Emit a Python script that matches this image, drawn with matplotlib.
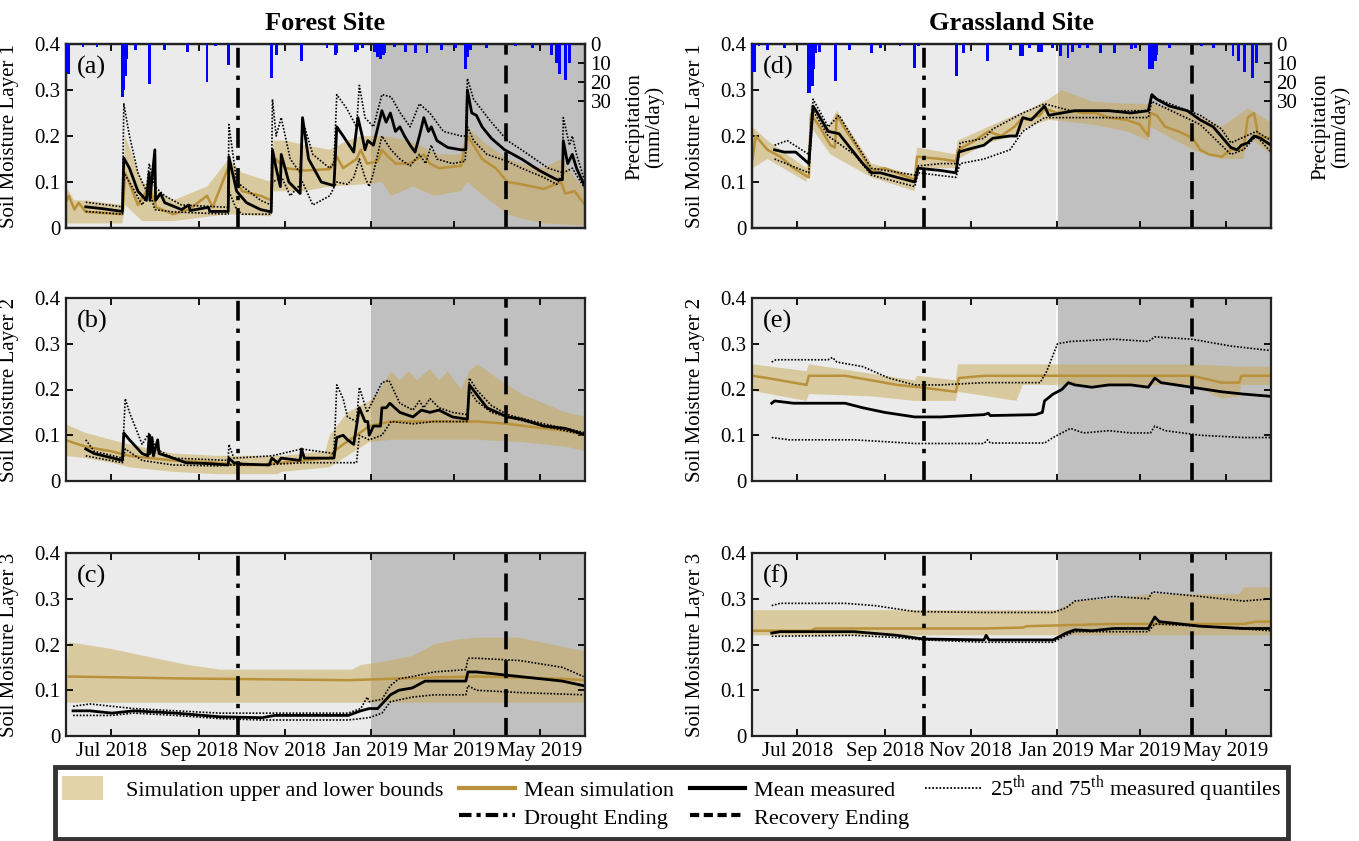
import numpy as np
import matplotlib
matplotlib.use("Agg")
import matplotlib.pyplot as plt
import matplotlib.dates as mdates
from matplotlib.patches import Patch, Rectangle
from matplotlib.lines import Line2D
from matplotlib.legend_handler import HandlerPatch

plt.rcParams['font.family'] = 'serif'
plt.rcParams['font.serif'] = ['Liberation Serif', 'DejaVu Serif']
plt.rcParams['mathtext.fontset'] = 'custom'
plt.rcParams['mathtext.rm'] = 'Liberation Serif'

# ---------------- data (day offsets from 2018-07-01) ----------------
BASE = '2018-07-01'
X_START, X_END = -32, 336
DROUGHT_END = '2018-09-29'
RECOVERY_END = '2019-04-07'
WET_START = '2019-01-01'

# precipitation (day, mm/day)
forest_rain_day = [-31, -30, -20, -10, 8, 9, 10, 11, 17, 27, 38, 54, 68, 74, 83, 114, 117, 135,
                   153, 159, 160, 173, 175, 178, 187, 189, 191, 193, 194, 201, 209, 216, 224, 234,
                   244, 251, 253, 255, 266, 287, 299, 312, 316, 318, 322, 325]
forest_rain_mm = [15, 16, 1.5, 1.5, 28, 24, 17, 8, 3, 21, 3, 4, 20, 1, 11, 18, 6, 9,
                  2, 6, 5, 4, 3, 2, 4, 7, 8, 6, 5, 1.5, 4, 5, 5, 3,
                  2, 13, 7, 3, 2, 1, 2, 6, 10, 16, 19, 10]
grass_rain_day = [-31, -30, -27, -21, -9, 8, 9, 11, 12, 13, 16, 27, 37, 53, 59, 73, 83, 86, 113, 118,
                  135, 151, 158, 160, 165, 171, 173, 181, 187, 192, 195, 200, 206, 215, 225, 237,
                  240, 250, 252, 254, 255, 264, 287, 295, 309, 313, 317, 323, 326]
grass_rain_mm = [15, 15, 1, 3, 2, 26, 26, 22, 13, 5, 4, 19.5, 3, 5, 2, 1, 12.7, 1, 17, 5,
                 9, 3, 6.5, 6.5, 2, 4, 4, 2, 6.5, 7.3, 4, 2, 2, 5, 5, 2.4,
                 2, 13, 13, 9, 6, 2, 1, 2, 6.5, 9, 14.6, 18, 10]

# ---- Forest layer 1 (a)
a_sim = [(-33, .05), (-30, .07), (-26, .04), (-23, .055), (-18, .035), (8, .03), (10, .12), (19, .05),
         (27, .09), (32, .045), (44, .03), (55, .04), (68, .07), (72, .045), (83.5, .135), (89, .1),
         (93, .08), (106, .07), (113.5, .06), (115, .155), (120, .14), (124, .13), (137, .125),
         (155, .128), (160, .155), (164.5, .13), (174, .15), (177, .17), (181.5, .14), (189, .145),
         (192, .17), (195, .16), (201.6, .14), (211, .14), (217, .15), (221.7, .16), (226, .14),
         (232.5, .13), (248, .135), (252.6, .2), (257, .18), (263, .15), (272.7, .13), (281, .1),
         (291, .095), (306.7, .085), (319, .1), (322, .075), (328.6, .08), (336, .05)]
a_up = [(-33, .095), (-26, .06), (-18, .06), (8, .05), (10, .2), (22, .1), (44, .06), (68, .09),
        (83.5, .15), (93, .12), (113.5, .1), (115, .19), (124, .19), (137, .18), (155, .17),
        (167.6, .19), (177, .2), (183, .2), (192, .2), (211, .19), (232.5, .16), (248, .16),
        (252.6, .22), (263, .19), (281, .15), (291, .14), (306.7, .13), (319, .15), (336, .08)]
a_lo = [(-33, .01), (-18, .01), (8, .01), (10, .05), (22, .015), (44, .015), (83.5, .03),
        (113.5, .025), (115, .08), (137, .08), (155, .09), (184, .096), (192, .1), (198.5, .07),
        (214, .09), (229, .07), (248, .08), (252.6, .1), (260, .08), (281, .03), (291, .02),
        (306.7, .01), (336, .005)]
a_mean = [(-18, .046), (-6, .042), (8, .036), (9, .152), (13, .13), (19, .08), (25, .06), (27, .12),
          (27.5, .06), (31, .17), (31.5, .06), (35, .075), (38, .055), (50, .04), (55, .05),
          (56, .038), (69, .045), (70, .036), (83, .036), (83.5, .155), (89, .08), (96, .055),
          (106, .04), (113.5, .035), (114.4, .17), (117, .13), (120, .09), (120.6, .16), (126, .1),
          (134, .075), (135.7, .24), (140, .15), (149, .1), (158, .092), (160, .22), (164.5, .2),
          (172, .165), (175, .24), (178, .2), (180, .17), (182, .19), (186, .18), (192, .255),
          (195, .23), (198, .25), (201.6, .21), (204.7, .22), (208, .2), (212, .18), (215.5, .165),
          (218.6, .2), (221.7, .24), (225, .21), (227, .22), (231, .19), (238.7, .175), (248, .17),
          (251.5, .17), (252.6, .3), (255.7, .25), (259, .245), (263, .22), (269.6, .195),
          (279, .17), (291, .15), (303.6, .125), (316, .105), (320, .105), (320.6, .19),
          (323.7, .14), (327, .16), (330, .13), (336, .09)]
a_q75 = [(-18, .056), (8, .046), (9, .27), (13, .2), (19, .12), (25, .08), (27, .14), (31, .09),
         (38, .07), (50, .05), (83, .045), (83.5, .225), (89, .1), (106, .06), (113.5, .05),
         (114.4, .28), (117, .2), (120.6, .24), (127, .15), (134, .12), (135.7, .235), (143, .16),
         (155, .13), (158, .14), (160, .29), (167, .26), (174, .22), (176, .31), (180, .24),
         (183, .23), (186, .22), (192, .29), (198.5, .285), (205, .25), (212, .22), (218.6, .27),
         (226, .25), (235.6, .21), (248, .2), (251.5, .2), (252.6, .325), (257, .28), (269.6, .23),
         (281, .19), (291, .17), (310, .13), (320, .12), (320.6, .24), (325, .18), (327, .2),
         (330, .16), (336, .1)]
a_q25 = [(-18, .036), (8, .03), (9, .12), (13, .1), (22, .05), (27, .08), (31, .04), (44, .035),
         (83, .03), (83.5, .08), (89, .04), (93, .03), (113.5, .03), (114.4, .1), (121, .11),
         (127, .07), (135.7, .1), (143, .05), (155, .07), (160, .1), (167.6, .095), (172, .11),
         (176, .15), (180, .11), (183, .09), (186, .12), (192, .2), (198.5, .17), (204.7, .15),
         (212, .135), (218.6, .16), (223, .14), (227, .18), (231, .15), (242, .14), (251, .145),
         (252.6, .22), (257, .19), (266.5, .16), (281, .145), (291, .13), (306.7, .11), (316, .095),
         (320.6, .12), (327, .13), (336, .085)]

# ---- Forest layer 2 (b)
b_sim = [(-33, .09), (-18, .075), (0, .065), (13, .055), (28, .05), (44, .045), (75, .04), (90, .035),
         (106, .035), (121, .04), (137, .045), (155, .05), (158, .065), (164.5, .08), (174, .1),
         (183, .12), (198.5, .13), (229, .13), (260, .13), (281, .125), (306.7, .115), (322, .11),
         (337, .1)]
b_up = [(-33, .125), (-18, .105), (0, .09), (13, .08), (44, .06), (75, .055), (121, .055), (152, .065),
        (155, .1), (167.6, .15), (183, .175), (189, .19), (198.5, .24), (204.7, .22), (211, .24),
        (217, .22), (226, .245), (232.5, .22), (238.7, .24), (248, .2), (254, .24), (260, .255),
        (276, .22), (291, .19), (306.7, .17), (322, .15), (337, .14)]
b_lo = [(-33, .055), (-18, .05), (0, .04), (13, .03), (44, .02), (75, .015), (118, .015), (121, .02),
        (155, .03), (167.6, .055), (183, .085), (198.5, .09), (260, .09), (291, .085), (322, .075),
        (337, .065)]
b_mean = [(-18, .07), (-12, .06), (8, .045), (9, .105), (13, .09), (22, .06), (26, .055), (27, .1),
          (27.5, .06), (29, .095), (30, .055), (33, .09), (34, .06), (44, .05), (53, .04), (69, .038),
          (83, .035), (83.5, .05), (87, .04), (93, .037), (112, .035), (114, .05), (118, .04),
          (120.6, .05), (134, .045), (135, .07), (137, .05), (158, .05), (160, .095), (164.5, .1),
          (167.6, .09), (172, .08), (176, .16), (180, .13), (182, .13), (183, .1), (186, .12),
          (191, .12), (192, .16), (195, .16), (197.6, .17), (204.7, .15), (214, .14), (220, .155),
          (226, .15), (232.5, .155), (242, .14), (252.6, .135), (254, .21), (259, .19), (266.5, .16),
          (281, .14), (291, .135), (306.7, .12), (322, .115), (337, .1)]
b_q75 = [(-18, .09), (-12, .065), (8, .05), (10, .18), (13, .15), (22, .08), (27, .105), (32, .07),
         (44, .05), (83, .045), (83.5, .08), (87, .05), (114, .055), (135, .07), (158, .06),
         (160, .21), (164.5, .18), (167.6, .14), (174, .13), (176, .205), (181.5, .15), (192, .215),
         (197, .22), (204.7, .17), (214, .155), (218.6, .175), (221.7, .16), (226, .18),
         (232.5, .16), (242, .15), (252.6, .145), (254, .225), (259, .2), (269.6, .165),
         (281, .145), (306.7, .125), (322, .115), (337, .105)]
b_q25 = [(-18, .055), (8, .04), (10, .07), (22, .045), (44, .035), (75, .033), (83.5, .035),
         (106, .035), (137, .04), (174, .04), (176, .1), (183, .09), (192, .1), (198.5, .13),
         (214, .125), (229, .13), (252.6, .13), (254, .2), (259, .175), (269.6, .15), (281, .14),
         (306.7, .12), (322, .11), (337, .1)]

# ---- Forest layer 3 (c)
c_sim = [(-30, .13), (46, .126), (107, .124), (168, .122), (198, .125), (229, .128), (259, .13),
         (289.5, .128), (320, .125), (335, .122)]
c_up = [(-30, .205), (0.6, .19), (31, .17), (55, .155), (77, .145), (171, .145), (177, .155),
        (198, .165), (213.5, .175), (229, .2), (244, .21), (259, .215), (289.5, .215), (320, .195),
        (336, .185)]
c_lo = [(-33, .073), (336, .073)]
c_mean = [(-27, .055), (-15, .055), (0.6, .05), (16, .055), (46, .05), (77, .042), (107, .04),
          (116, .045), (168, .045), (177, .055), (183, .06), (189, .06), (198, .09), (204, .1),
          (213.5, .105), (222.6, .12), (251.5, .12), (253, .14), (259, .14), (289.5, .13),
          (320, .12), (335, .11)]
c_q75 = [(-27, .065), (-15, .07), (16, .06), (46, .055), (77, .05), (168, .05), (177, .06),
         (181.6, .085), (183, .075), (192, .08), (198, .11), (204, .125), (213.5, .13), (229, .14),
         (251.5, .145), (253, .17), (259, .17), (289.5, .165), (320, .15), (335, .13)]
c_q25 = [(-27, .045), (0.6, .045), (16, .05), (46, .045), (77, .038), (107, .035), (168, .035),
         (183, .04), (192, .05), (198, .075), (213.5, .085), (229, .09), (251.5, .09), (253, .11),
         (259, .1), (289.5, .095), (335, .09)]

# ---- Grassland layer 1 (d)
d_sim = [(-31.6, .15), (-29.4, .2), (-21, .17), (-12, .155), (-2.5, .13), (8.3, .11), (9.8, .247),
         (16, .22), (23.6, .18), (26.7, .175), (28.2, .245), (34, .215), (40.5, .185), (52.7, .125),
         (62, .13), (71, .12), (83.4, .105), (85, .155), (101.8, .15), (112.5, .145), (114, .17),
         (126, .19), (135.6, .21), (144.7, .2), (154, .22), (160, .24), (163, .235), (172.3, .245),
         (175.4, .26), (184.6, .25), (193.8, .255), (203, .25), (212, .25), (221, .24),
         (233.7, .235), (242.9, .225), (249, .2), (250.5, .25), (255, .245), (261, .22),
         (270.5, .21), (280.6, .195), (285.8, .17), (292, .16), (301, .155), (307.5, .17),
         (316.5, .17), (319.5, .24), (324, .25), (327, .2), (336, .195)]
d_up = [(-31.6, .22), (-21, .19), (6.7, .13), (9.8, .27), (22, .22), (28.2, .255), (52.7, .14),
        (83.4, .115), (85, .175), (112.5, .16), (114, .19), (135.6, .22), (154, .245), (163, .255),
        (178.5, .28), (187.7, .3), (209, .275), (233.7, .27), (250.5, .27), (280.6, .25),
        (301, .22), (319.5, .26), (336, .23)]
d_lo = [(-31.6, .13), (-21, .15), (6.7, .1), (9.8, .22), (23.6, .16), (52.7, .11), (83.4, .08),
        (85, .13), (112.5, .13), (114, .15), (135.6, .185), (154, .2), (163, .22), (178.5, .235),
        (209, .225), (233.7, .21), (249, .19), (250.5, .22), (280.6, .17), (301, .15),
        (316.5, .15), (319.5, .2), (336, .16)]
d_mean = [(-16, .17), (-9, .165), (-1, .165), (8.3, .14), (11.3, .265), (14.4, .25), (22, .21),
          (29.7, .205), (37.4, .175), (46.6, .14), (52.7, .12), (59, .12), (71, .11), (83.4, .1),
          (85.9, .13), (101.8, .125), (112.5, .12), (114.7, .165), (120, .17), (132.5, .18),
          (138.6, .195), (150.9, .2), (155.5, .2), (160, .24), (166, .235), (175.4, .265),
          (178.5, .245), (187.7, .25), (196.9, .255), (209, .255), (221, .255), (236.7, .25),
          (249, .255), (251.5, .29), (255, .28), (264, .265), (276.6, .255), (285.8, .235),
          (295, .22), (307.5, .175), (312, .17), (315, .18), (319.5, .185), (324, .2),
          (328.6, .195), (336, .18)]
d_q75 = [(-16, .18), (-7, .19), (8.3, .16), (11.3, .28), (22, .22), (29.7, .245), (40.5, .19),
         (52.7, .13), (83.4, .115), (85.9, .135), (101.8, .14), (114, .14), (115.6, .185),
         (132.5, .195), (138.6, .215), (160, .25), (175.4, .27), (193.8, .255), (249, .255),
         (251.5, .285), (285.8, .245), (301, .215), (307.5, .185), (325.6, .21), (336, .19)]
d_q25 = [(-16, .15), (8.3, .12), (11.3, .255), (22, .2), (40.5, .16), (52.7, .115), (83.4, .09),
         (85.9, .12), (112.5, .11), (115.6, .14), (132.5, .15), (150.9, .17), (160, .21),
         (175.4, .24), (193.8, .24), (249, .24), (251.5, .275), (285.8, .225), (307.5, .16),
         (316.5, .17), (325.6, .2), (336, .165)]

# ---- Grassland layer 2 (e)
e_sim = [(-31.6, .23), (-21, .225), (6.7, .21), (8.3, .23), (34, .23), (52.7, .22), (71, .21),
         (86.5, .205), (112.5, .195), (114.7, .225), (132.5, .23), (280, .23), (301, .215),
         (313.5, .215), (315, .23), (336, .23)]
e_up = [(-31.6, .255), (6.7, .24), (8.3, .255), (83.4, .22), (85, .23), (112.5, .22), (114, .255),
        (280, .255), (313.5, .25), (336, .25)]
e_lo = [(-31.6, .197), (6.7, .175), (8.3, .19), (52.7, .185), (83.4, .175), (112.5, .175),
        (114, .195), (135, .185), (155.5, .175), (160, .21), (280, .21), (301, .18), (313.5, .185),
        (315, .21), (336, .21)]
e_mean = [(-18, .17), (-16, .175), (-2.5, .17), (34, .17), (46.6, .16), (62, .15), (83.4, .14),
          (101.8, .14), (132.5, .145), (135.6, .148), (137, .143), (169, .145), (173.9, .15),
          (175.4, .175), (181.5, .19), (187.7, .2), (192.3, .215), (196.9, .21), (209, .205),
          (221, .21), (236.7, .21), (249, .205), (253.6, .225), (258, .215), (279.7, .205),
          (301, .195), (316.5, .19), (336, .185)]
e_q75 = [(-18, .26), (-15, .265), (22, .265), (25, .27), (28.2, .26), (46.6, .25), (65, .225),
         (83.4, .21), (101.8, .21), (132.5, .215), (172.3, .215), (177, .24), (184.6, .3),
         (193.8, .305), (224.5, .31), (249, .305), (253.6, .315), (279.7, .31), (307.5, .295),
         (336, .285)]
e_q25 = [(-18, .095), (-5.5, .09), (40.5, .09), (83.4, .082), (132.5, .082), (135, .09),
         (137, .083), (175.4, .083), (181.5, .095), (193.8, .115), (203, .105), (221, .11),
         (236.7, .105), (250.5, .105), (253.6, .12), (261, .11), (285.8, .1), (316.5, .095),
         (336, .095)]

# ---- Grassland layer 3 (f)
f_sim = [(-31.6, .23), (9.8, .23), (13, .235), (71, .235), (132.5, .235), (160, .237), (163, .24),
         (224.5, .245), (255, .245), (316.5, .245), (325.6, .25), (336, .25)]
f_up = [(-31.6, .275), (184, .275), (187.7, .28), (196.9, .295), (224.5, .3), (249, .31),
        (313.5, .31), (316.5, .325), (336, .325)]
f_lo = [(-31.6, .22), (336, .22)]
f_mean = [(-18, .225), (-12, .228), (40.5, .228), (71, .22), (89.5, .212), (132.5, .21), (134, .22),
          (136, .21), (181.5, .21), (190.7, .225), (196.9, .232), (209, .23), (224.5, .235),
          (249, .235), (253.6, .26), (256.7, .25), (285.8, .24), (316.5, .235), (336, .235)]
f_q75 = [(-18, .285), (-12, .29), (34, .29), (55, .285), (83.4, .272), (132.5, .27), (181.5, .27),
         (190.7, .28), (196.9, .295), (224.5, .305), (249, .3), (252, .315), (285.8, .305),
         (316.5, .295), (336, .3)]
f_q25 = [(-18, .218), (40.5, .22), (71, .215), (89.5, .21), (132.5, .205), (181.5, .205),
         (190.7, .22), (196.9, .228), (249, .228), (253.6, .245), (285.8, .24), (336, .23)]

panel_letters = ['(a)', '(b)', '(c)', '(d)', '(e)', '(f)']
layer_labels = ['Soil Moisture Layer 1', 'Soil Moisture Layer 2', 'Soil Moisture Layer 3']
site_titles = ['Forest Site', 'Grassland Site']
yticks = [0, 0.1, 0.2, 0.3, 0.4]
ytick_labels = ['0', '0.1', '0.2', '0.3', '0.4']
rain_ticks = [0, 10, 20, 30]

# ---------------- styling ----------------
GOLD = '#b8913a'
BAND = '#c9a852'
LIGHT = '#ebebeb'
DARK = '#c0c0c0'
BASE_NUM = mdates.date2num(np.datetime64(BASE))


def dnum(days):
    return BASE_NUM + np.asarray(days, dtype=float)


def xy(pairs):
    arr = np.array(pairs, dtype=float)
    return dnum(arr[:, 0]), arr[:, 1]


W, H = 1359, 841
fig = plt.figure(figsize=(W / 100, H / 100), dpi=100)

col_x = [66, 752]
row_y = [(44, 228), (298, 481), (553, 736)]
ax_w = 519

data = {
    (0, 0): (a_sim, a_up, a_lo, a_mean, a_q75, a_q25),
    (0, 1): (b_sim, b_up, b_lo, b_mean, b_q75, b_q25),
    (0, 2): (c_sim, c_up, c_lo, c_mean, c_q75, c_q25),
    (1, 0): (d_sim, d_up, d_lo, d_mean, d_q75, d_q25),
    (1, 1): (e_sim, e_up, e_lo, e_mean, e_q75, e_q25),
    (1, 2): (f_sim, f_up, f_lo, f_mean, f_q75, f_q25),
}

xmin, xmax = dnum(X_START), dnum(X_END)
wet = mdates.date2num(np.datetime64(WET_START))
dr = mdates.date2num(np.datetime64(DROUGHT_END))
rc = mdates.date2num(np.datetime64(RECOVERY_END))

TICK_FS = 15
for col in range(2):
    for row in range(3):
        top, bot = row_y[row]
        ax = fig.add_axes([col_x[col] / W, 1 - bot / H, ax_w / W, (bot - top) / H])
        sim, up, lo, mean, q75, q25 = data[(col, row)]
        ax.axvspan(xmin, wet, color=LIGHT, lw=0, zorder=0)
        ax.axvspan(wet, xmax, color=DARK, lw=0, zorder=0)
        if col == 1:
            ax.axvline(wet, color='white', lw=1.2, zorder=0.5)
        ux, uy = xy(up)
        lx, ly = xy(lo)
        ax.fill(np.r_[ux, lx[::-1]], np.r_[uy, ly[::-1]], color=BAND, alpha=0.5, lw=0, zorder=1)
        sx, sy = xy(sim)
        ax.plot(sx, sy, color=GOLD, lw=1.8, zorder=2)
        for q in (q75, q25):
            qx, qy = xy(q)
            ax.plot(qx, qy, color='black', lw=1.2, ls=(0, (1, 1)), zorder=3)
        mx, my = xy(mean)
        ax.plot(mx, my, color='black', lw=2.0, zorder=4)
        ax.axvline(dr, color='black', lw=2.6, ls=(0, (5.5, 2.2, 1.2, 2.2)), zorder=5)
        ax.axvline(rc, color='black', lw=2.6, ls=(0, (5, 3)), zorder=5)

        ax.set_xlim(xmin, xmax)
        ax.set_ylim(0, 0.4)
        ax.set_yticks(yticks)
        ax.set_yticklabels(ytick_labels)
        ax.xaxis.set_major_locator(mdates.MonthLocator(bymonth=[1, 3, 5, 7, 9, 11]))
        ax.xaxis.set_major_formatter(mdates.DateFormatter('%b %Y'))
        ax.tick_params(direction='in', top=True, right=(row != 0), length=5, width=1.3,
                       labelsize=TICK_FS, colors='black', pad=4)
        if row != 2:
            ax.tick_params(labelbottom=False)
        for sp in ax.spines.values():
            sp.set_linewidth(1.6)
            sp.set_color('#222222')
            sp.set_zorder(6)
        ax.set_ylabel(layer_labels[row], fontsize=15)
        ax.yaxis.set_label_coords(-0.09, 0.5)
        ax.text(0.02, 0.87, panel_letters[col * 3 + row], transform=ax.transAxes,
                fontsize=19, va='center', ha='left', zorder=7)
        if row == 0:
            ax.set_title(site_titles[col], fontsize=19, fontweight='bold', pad=10)
            ax2 = ax.twinx()
            rd, rm = (forest_rain_day, forest_rain_mm) if col == 0 else (grass_rain_day, grass_rain_mm)
            ax2.bar(dnum(rd), rm, width=2.0, bottom=0, color='#0000ff', lw=0, zorder=3)
            ax2.set_ylim(97, 0)
            ax2.set_yticks(rain_ticks)
            ax2.tick_params(direction='in', length=5, width=1.3, labelsize=TICK_FS, pad=4)
            for sp in ax2.spines.values():
                sp.set_linewidth(1.6)
                sp.set_color('#222222')
            ax2.set_xlim(xmin, xmax)
            ax2.text(1.115, 0.55, 'Precipitation\n(mm/day)', transform=ax2.transAxes,
                     rotation=90, ha='center', va='center', fontsize=15, linespacing=1.05)


# ---------------- legend ----------------
def narrow_patch(legend, orig_handle, xdescent, ydescent, width, height, fontsize):
    return Rectangle((-xdescent, -ydescent - 0.2 * height), 0.75 * width, 1.4 * height)


blank = Line2D([], [], color='none')
band_handle = Patch(facecolor=BAND, alpha=0.5, edgecolor='none')
handles = [band_handle, blank,
           Line2D([], [], color=GOLD, lw=3), Line2D([], [], color='black', lw=3, ls=(0, (3, 1.2, 1, 1.2))),
           Line2D([], [], color='black', lw=3), Line2D([], [], color='black', lw=3, ls=(0, (2.2, 1.1))),
           Line2D([], [], color='black', lw=1.3, ls=(0, (1, 1))), blank]
labels = ['Simulation upper and lower bounds', '',
          'Mean simulation', 'Drought Ending',
          'Mean measured', 'Recovery Ending',
          r'25$^{\mathrm{th}}$ and 75$^{\mathrm{th}}$ measured quantiles', '']
leg = fig.legend(handles, labels, ncol=4, loc='center',
                 bbox_to_anchor=(55 / W, 1 - 838 / H, (1288 - 55) / W, 70 / H), mode='expand',
                 fontsize=16, frameon=True, fancybox=False, edgecolor='black',
                 handlelength=2.5, handleheight=0.8, handletextpad=0.4, columnspacing=0.3,
                 labelspacing=0.3, borderpad=0.3, borderaxespad=0,
                 handler_map={band_handle: HandlerPatch(patch_func=narrow_patch)})
leg.get_frame().set_linewidth(3.5)

fig.savefig('out.png', dpi=100)
